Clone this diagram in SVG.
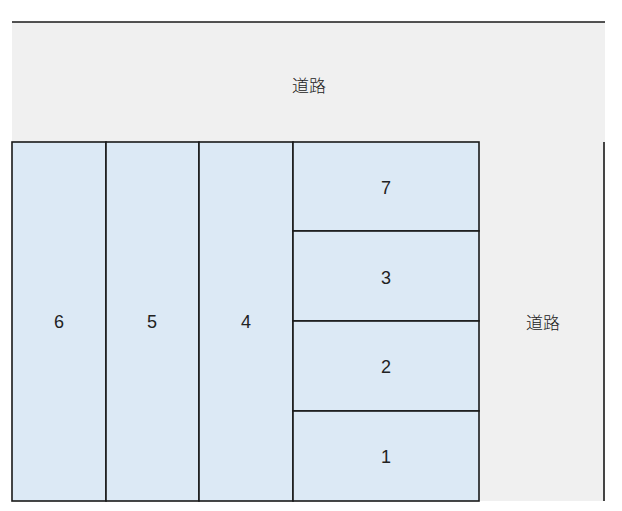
<svg xmlns="http://www.w3.org/2000/svg" width="622" height="511" viewBox="0 0 622 511">
<style>
.lot{fill:#dce9f5;stroke:#1a1a1a;stroke-width:1.6}
.t{font-family:"Noto Sans CJK JP","Liberation Sans",sans-serif;font-size:17px;font-weight:300;fill:#222;text-anchor:middle;dominant-baseline:central}
.n{font-family:"Liberation Sans","Noto Sans CJK JP",sans-serif;font-size:18px;font-weight:normal}
.ln{stroke:#1a1a1a;stroke-width:1.6;fill:none}
</style>
<rect x="12" y="22" width="593" height="479" fill="#f0f0f0"/>
<g id="road-top"><line class="ln" x1="12" y1="22" x2="605" y2="22"/><text class="t" x="309" y="84">道路</text></g>
<g id="road-right"><line class="ln" x1="604" y1="142" x2="604" y2="501"/><text class="t" x="543" y="321">道路</text></g>
<g id="lot6"><rect class="lot" x="12" y="142" width="94" height="359"/><text class="t n" x="59" y="322">6</text></g>
<g id="lot5"><rect class="lot" x="106" y="142" width="93" height="359"/><text class="t n" x="152" y="322">5</text></g>
<g id="lot4"><rect class="lot" x="199" y="142" width="94" height="359"/><text class="t n" x="246" y="322">4</text></g>
<g id="lot7"><rect class="lot" x="293" y="142" width="186" height="89"/><text class="t n" x="386" y="188">7</text></g>
<g id="lot3"><rect class="lot" x="293" y="231" width="186" height="90"/><text class="t n" x="386" y="278">3</text></g>
<g id="lot2"><rect class="lot" x="293" y="321" width="186" height="90"/><text class="t n" x="386" y="367">2</text></g>
<g id="lot1"><rect class="lot" x="293" y="411" width="186" height="90"/><text class="t n" x="386" y="457">1</text></g>
</svg>
